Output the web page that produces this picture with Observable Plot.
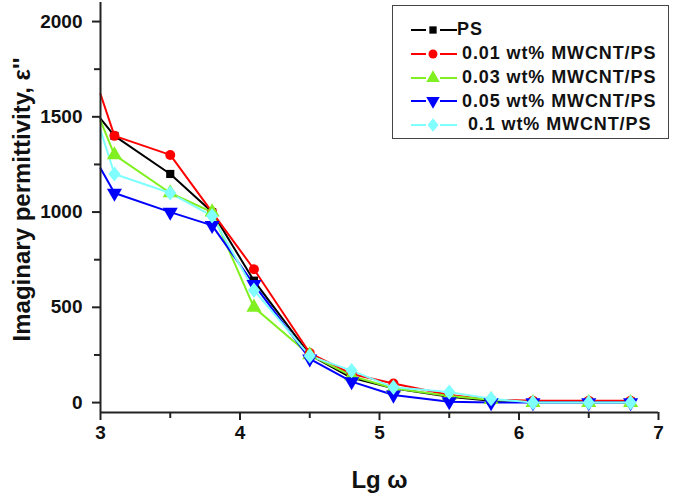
<!DOCTYPE html>
<html>
<head>
<meta charset="utf-8">
<script src="https://cdn.jsdelivr.net/npm/d3@7"></script>
<script src="https://cdn.jsdelivr.net/npm/@observablehq/plot@0.6"></script>
<style>
  html, body { margin: 0; padding: 0; background: #fff; }
  #wrap { position: relative; width: 676px; height: 498px; font-family: Arial, "Liberation Sans", sans-serif; }
  #wrap svg { display: block; }
  #legend { position: absolute; left: 392px; top: 5px; width: 275px; height: 132px; border: 1.5px solid #444; background: #fff; box-sizing: content-box; }
  .row { position: absolute; left: 16px; height: 22px; display: flex; align-items: center; font-weight: bold; font-size: 18px; letter-spacing: 0.9px; color: #111; white-space: pre; }
</style>
</head>
<body>
<div id="wrap"><div id="legend"></div></div>
<script>
// ---- data ----
const lgOmega = [3.0, 3.1, 3.5, 3.8, 4.1, 4.5, 4.8, 5.1, 5.5, 5.8, 6.1, 6.5, 6.8];
const seriesNames = ["PS", "0.01 wt% MWCNT/PS", "0.03 wt% MWCNT/PS", "0.05 wt% MWCNT/PS", "0.1 wt% MWCNT/PS"];
const ps    = [1490, 1400, 1200, 1000, 640, 250, 130, 75, 30, 10, 5, 5, 5];
const c001  = [1620, 1400, 1300, 1000, 700, 260, 150, 100, 40, 15, 10, 10, 10];
const c003  = [1480, 1300, 1100, 1000, 500, 250, 140, 75, 35, 15, 0, 0, 0];
const c005  = [1230, 1100, 1000, 930, 620, 230, 110, 40, 5, 0, 0, 0, 0];
const c01   = [1430, 1200, 1100, 980, 590, 245, 168, 80, 55, 20, 0, 0, 0];
const seriesValues = [ps, c001, c003, c005, c01];
const yTicks = [0, 500, 1000, 1500, 2000];
const yMinorTicks = [250, 750, 1250, 1750];
const xTicks = [3, 4, 5, 6, 7];
const xMinorTicks = [3.5, 4.5, 5.5, 6.5];
const xDomain = [3, 7];
const yDomain = [-52, 2100];

// ---- styles ----
const colors = ["#000000", "#ff0000", "#80f020", "#0000ff", "#80ffff"];
const sq3 = Math.sqrt(3);
const triangleDown = {
  draw(ctx, size) {
    const y = -Math.sqrt(size / (sq3 * 3));
    ctx.moveTo(0, -y * 2);
    ctx.lineTo(-sq3 * y, y);
    ctx.lineTo(sq3 * y, y);
    ctx.closePath();
  }
};
const diamondWide = {
  draw(ctx, size) {
    const h = Math.sqrt(size / 1.6);
    const w = h * 0.8;
    ctx.moveTo(0, -h);
    ctx.lineTo(w, 0);
    ctx.lineTo(0, h);
    ctx.lineTo(-w, 0);
    ctx.closePath();
  }
};
const symbols = ["square", "circle", "triangle", triangleDown, diamondWide];
const radii = [4.6, 5, 5.6, 5.6, 5.4];

const table = [];
seriesNames.forEach((name, i) => {
  seriesValues[i].forEach((v, j) => table.push({series: name, x: lgOmega[j], y: v, idx: j}));
});

const marks = [];
seriesNames.forEach((name, i) => {
  const rows = table.filter(d => d.series === name);
  marks.push(Plot.line(rows, {x: "x", y: "y", stroke: colors[i], strokeWidth: 2}));
});
seriesNames.forEach((name, i) => {
  const rows = table.filter(d => d.series === name && d.idx > 0);
  marks.push(Plot.dot(rows, {x: "x", y: "y", symbol: symbols[i], r: radii[i], fill: colors[i], stroke: "none"}));
});

const axisColor = "#222";
const chart = Plot.plot({
  width: 676,
  height: 498,
  marginLeft: 100,
  marginRight: 18,
  marginTop: 2,
  marginBottom: 86,
  style: {fontFamily: "Arial, 'Liberation Sans', sans-serif", fontSize: "19px", fontWeight: "bold", color: "#111", background: "#fff"},
  x: {domain: xDomain},
  y: {domain: yDomain},
  marks: [
    ...marks,
    Plot.axisY({ticks: yTicks, tickSize: 8, tickPadding: 10, strokeWidth: 2, stroke: axisColor, label: null, tickFormat: d => String(d)}),
    Plot.axisY({ticks: yMinorTicks, tickSize: 6, strokeWidth: 2, stroke: axisColor, text: null, label: null}),
    Plot.axisX({ticks: xTicks, tickSize: 8, tickPadding: 5, strokeWidth: 2, stroke: axisColor, label: null, tickFormat: d => String(d)}),
    Plot.axisX({ticks: xMinorTicks, tickSize: 6, strokeWidth: 2, stroke: axisColor, text: null, label: null}),
    Plot.ruleX([xDomain[0]], {stroke: axisColor, strokeWidth: 2}),
    Plot.ruleY([yDomain[0]], {stroke: axisColor, strokeWidth: 2, x1: xDomain[0], x2: xDomain[1]}),
    Plot.text(["Lg ω"], {frameAnchor: "bottom", dy: 75, fontSize: 24, fontWeight: "bold", fill: "#111"}),
    Plot.text(["Imaginary permittivity, ε''"], {frameAnchor: "left", textAnchor: "middle", rotate: -90, dx: -78, dy: -8, fontSize: 24, fontWeight: "bold", fill: "#111"})
  ]
});
document.getElementById("wrap").prepend(chart);

// ---- legend (HTML) ----
const legend = document.getElementById("legend");
const rowCenters = [30, 54, 78, 101.5, 125];
seriesNames.forEach((name, i) => {
  const row = document.createElement("div");
  row.className = "row";
  row.style.top = (rowCenters[i] - 6.5 - 11) + "px";
  const svgNS = "http://www.w3.org/2000/svg";
  const s = document.createElementNS(svgNS, "svg");
  s.setAttribute("width", 50); s.setAttribute("height", 22);
  const l1 = document.createElementNS(svgNS, "line");
  l1.setAttribute("x1", 2); l1.setAttribute("x2", 17); l1.setAttribute("y1", 11); l1.setAttribute("y2", 11);
  const l2 = document.createElementNS(svgNS, "line");
  l2.setAttribute("x1", 31); l2.setAttribute("x2", 48); l2.setAttribute("y1", 11); l2.setAttribute("y2", 11);
  [l1, l2].forEach(l => { l.setAttribute("stroke", colors[i]); l.setAttribute("stroke-width", 2); s.appendChild(l); });
  const p = document.createElementNS(svgNS, "path");
  const sym = typeof symbols[i] === "string"
    ? ({square: d3.symbolSquare, circle: d3.symbolCircle, triangle: d3.symbolTriangle})[symbols[i]]
    : symbols[i];
  p.setAttribute("d", d3.symbol(sym, Math.PI * radii[i] * radii[i] * 0.8)());
  p.setAttribute("transform", "translate(24,11)");
  p.setAttribute("fill", colors[i]);
  s.appendChild(p);
  row.appendChild(s);
  const t = document.createElement("span");
  t.textContent = (i === 4 ? " " : "") + name;
  t.style.marginLeft = i === 0 ? "-2px" : "3px";
  row.appendChild(t);
  legend.appendChild(row);
});
</script>
</body>
</html>
